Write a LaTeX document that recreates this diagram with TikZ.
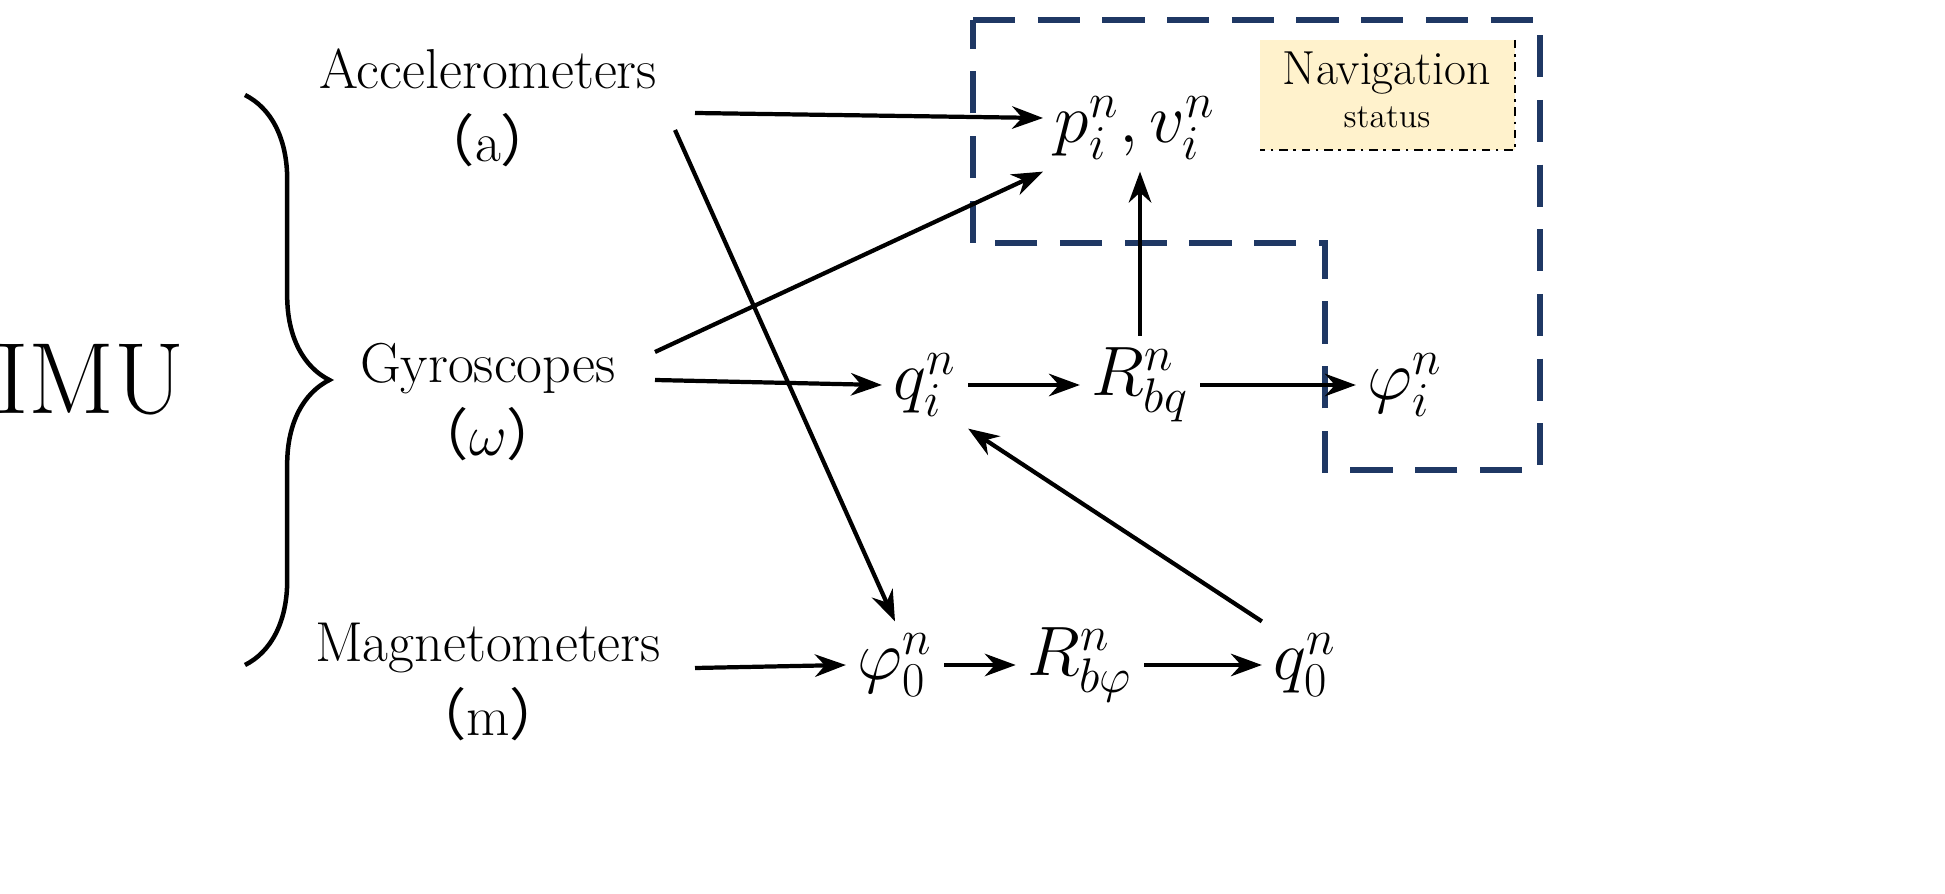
\documentclass[tikz,border=0pt]{standalone}
\usepackage{fontspec}
\newfontfamily\cjk{Noto Sans CJK SC}
\usetikzlibrary{decorations.pathreplacing,arrows.meta}
\definecolor{navy}{RGB}{31,56,100}
\definecolor{paleyellow}{RGB}{255,242,204}
\begin{document}
\begin{tikzpicture}[x=0.0125cm,y=-0.0125cm,
  lbl/.style={align=center,font=\fontsize{20}{26}\selectfont,inner sep=2pt},
  mth/.style={font=\fontsize{24}{26}\selectfont,inner sep=4pt},
  arr/.style={-{Stealth[length=11pt,width=8pt]},line width=1.5pt}]
\fill[paleyellow] (1260,40) rectangle (1515,150);
\draw[line width=1pt,dash dot] (1515,40) -- (1515,150) -- (1260,150);
\node[font=\fontsize{17}{20}\selectfont] (navt) at (1387,73) {Navigation};
\node[font=\fontsize{12}{14}\selectfont] (navs) at (1387,117) {status};
\draw[navy,line width=1.9pt,dash pattern=on 15pt off 8pt] (973,20) -- (1540,20) -- (1540,470) -- (1325,470) -- (1325,243) -- (973,243) -- cycle;
\node[font=\fontsize{36}{38}\selectfont] (imu) at (90,380) {IMU};
\draw[line width=1.6pt,decorate,decoration={brace,amplitude=30pt,mirror}] (245,665) -- (245,95);
\node[lbl] (acc) at (488,108) {Accelerometers\\{\cjk （}a{\cjk ）}};
\node[lbl] (gyr) at (488,402) {Gyroscopes\\{\cjk （}$\omega${\cjk ）}};
\node[lbl] (mag) at (488,682) {Magnetometers\\{\cjk （}m{\cjk ）}};
\node[mth] (p) at (1135,128) {$p_i^n, v_i^n$};
\node[mth] (qi) at (925,385) {$q_i^n$};
\node[mth] (rbq) at (1140,385) {$R_{bq}^n$};
\node[mth] (phii) at (1405,385) {$\varphi_i^n$};
\node[mth] (phi0) at (895,665) {$\varphi_0^n$};
\node[mth] (rbp) at (1080,665) {$R_{b\varphi}^n$};
\node[mth] (q0) at (1305,665) {$q_0^n$};
\draw[arr] (695,113) -- (p.west|-0,118);
\draw[arr] (675,130) -- (phi0.north);
\draw[arr] (655,352) -- (p.south west);
\draw[arr] (655,380) -- (qi.west);
\draw[arr] (qi.east) -- (rbq.west);
\draw[arr] (rbq.east) -- (phii.west);
\draw[arr] (rbq.north) -- (p.south-|rbq.north);
\draw[arr] (695,668) -- (phi0.west);
\draw[arr] (phi0.east) -- (rbp.west);
\draw[arr] (rbp.east) -- (q0.west);
\draw[arr] (q0.north west) -- (qi.south east);
\pgfresetboundingbox
\path[use as bounding box] (0,0) rectangle (1945,894);
\end{tikzpicture}
\end{document}
